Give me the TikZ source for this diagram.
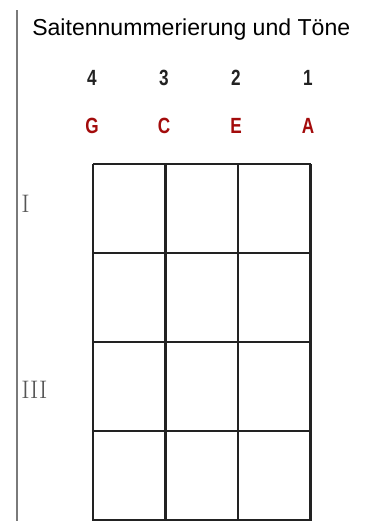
\documentclass[tikz,border=0pt]{standalone}
\usepackage{fontspec}
\usepackage{xcolor}
\usetikzlibrary{positioning}
\newfontfamily\titlefont{Liberation Sans}
\newfontfamily\condfont[FakeStretch=0.78]{Liberation Sans}
\definecolor{ink}{HTML}{222222}
\definecolor{note}{HTML}{A30B0B}
\definecolor{rule}{HTML}{7A7A7A}
\definecolor{fretgray}{HTML}{555555}

\begin{document}
\begin{tikzpicture}[x=0.75pt,y=-0.75pt,
  numlbl/.style={font=\condfont\bfseries\fontsize{16.5}{18}\selectfont,text=ink,anchor=base,inner sep=0},
  notelbl/.style={numlbl,text=note},
  fretlbl/.style={font=\fontsize{19}{21}\selectfont,text=fretgray,anchor=base west,inner sep=0},
  fret/.style={ink,line width=1.8pt}]
  \useasboundingbox (0,0) rectangle (367,521);
  \draw[rule,line width=1.3pt] (17,10)--(17,521);
  \node[font=\titlefont\fontsize{17.3}{20}\selectfont,anchor=base west,inner sep=0] (title) at (32,36) {Saitennummerierung und Töne};
  % strings: number and tone
  \foreach \n/\t/\x in {4/G/92,3/C/164,2/E/236,1/A/308}{
    \node[numlbl] (num\n) at (\x,85) {\n};
    \node[notelbl] (tone\n) at (\x,133) {\t};}
  % fretboard
  \foreach \x in {93,165.5,238,310.5} \draw[fret] (\x,164)--(\x,520.5);
  \foreach \y in {164,253,342,431,520} \draw[fret] (93,\y)--(310.5,\y);
  \node[fretlbl] (fretI) at (21,212) {I};
  \node[fretlbl] (fretIII) at (21,398) {III};
\end{tikzpicture}
\end{document}
